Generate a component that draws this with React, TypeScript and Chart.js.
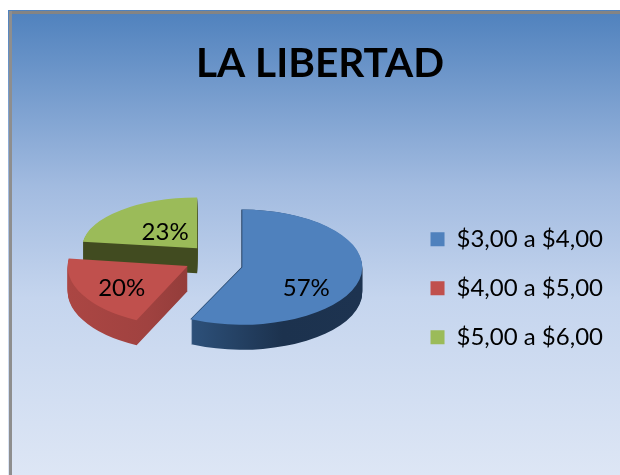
import React, { useEffect, useRef } from "react";
import { Chart, registerables } from "chart.js";

Chart.register(...registerables);

const categories = ["$3,00 a $4,00", "$4,00 a $5,00", "$5,00 a $6,00"];
const shares = [57, 20, 23];
const sliceColors = ["#4f81bd", "#c0504d", "#9bbb59"];
const wallStops = [
  ["#38608f", "#2b4d75", "#1c324e", "#1d3350"],
  ["#ab4643", "#a04240", "#873835", "#7f3432"],
  ["#414b20", "#414b20", "#414b20", "#414b20"],
];
const labelShift = [
  [64, 21],
  [-66, 22],
  [-32, -16],
];
const sliceNudge = [
  [0, 0],
  [1, -5],
  [4, -5],
];
const sliceSquash = [0.48, 0.5, 0.44];
const sliceScale = [1, 1, 0.96];
const FONT = "Lato";
const SQUASH = 0.48;
const DEPTH = 25;
const EXPLODE = 30;
const PIE_X = 213;
const PIE_Y = 264;

const sliceOrigin = (arc: any, i: number) => {
  const mid = (arc.startAngle + arc.endAngle) / 2;
  return {
    x: PIE_X + Math.cos(mid) * EXPLODE + sliceNudge[i][0],
    y: PIE_Y + Math.sin(mid) * EXPLODE * SQUASH + sliceNudge[i][1],
  };
};

const pie3d = {
  id: "pie3d",
  beforeDraw(chart: any) {
    const { ctx, width, height } = chart;
    const g = ctx.createLinearGradient(0, 10, 0, height);
    g.addColorStop(0, "#4f81bd");
    g.addColorStop(0.38, "#a2bbe0");
    g.addColorStop(0.62, "#c5d5ee");
    g.addColorStop(1, "#dde6f5");
    ctx.save();
    ctx.fillStyle = g;
    ctx.fillRect(8, 10, width - 8, height - 10);
    ctx.fillStyle = "#848484";
    ctx.fillRect(9, 11, width - 9, 3);
    ctx.fillStyle = "#8e8e8e";
    ctx.fillRect(9, 11, 3, height - 11);
    ctx.restore();
  },
  beforeDatasetsDraw(chart: any) {
    const { ctx } = chart;
    const arcs = chart.getDatasetMeta(0).data;
    const order = [2, 1, 0];
    for (const i of order) {
      const arc = arcs[i];
      const base = arc.options;
      const origin = sliceOrigin(arc, i);
      const place = (dy: number, dx = 0) => {
        ctx.translate(origin.x + dx, origin.y + dy);
        ctx.scale(sliceScale[i], sliceSquash[i] * sliceScale[i]);
        ctx.translate(-arc.x, -arc.y);
      };
      const r = arc.outerRadius;
      const g = ctx.createLinearGradient(arc.x - r, 0, arc.x + r, 0);
      wallStops[i].forEach((c, k) => g.addColorStop(k / 3, c));
      arc.options = { ...base, backgroundColor: g };
      for (let d = DEPTH; d >= 1; d--) {
        ctx.save();
        place(d);
        arc.draw(ctx);
        ctx.restore();
      }
      if (i === 0) {
        ctx.save();
        place(0, -1);
        arc.draw(ctx);
        ctx.restore();
      }
      arc.options = base;
      ctx.save();
      place(0);
      arc.draw(ctx);
      ctx.restore();
    }
    return false;
  },
  afterDraw(chart: any) {
    const { ctx } = chart;
    const arcs = chart.getDatasetMeta(0).data;
    ctx.save();
    ctx.font = `24px ${FONT}`;
    ctx.fillStyle = "#000";
    ctx.textAlign = "center";
    ctx.textBaseline = "middle";
    arcs.forEach((arc: any, i: number) => {
      const origin = sliceOrigin(arc, i);
      ctx.fillText(`${shares[i]}%`, origin.x + labelShift[i][0], origin.y + labelShift[i][1]);
    });
    ctx.restore();
  },
};

export default function App() {
  const ref = useRef<HTMLCanvasElement>(null);
  useEffect(() => {
    const chart = new Chart(ref.current!, {
      type: "pie",
      data: {
        labels: categories,
        datasets: [
          {
            data: shares,
            backgroundColor: sliceColors,
            borderWidth: 0,
          },
        ],
      },
      options: {
        responsive: false,
        animation: false,
        radius: 120,
        layout: { padding: { left: 27, right: 7, top: 0, bottom: 0 } },
        plugins: {
          tooltip: { enabled: false },
          title: {
            display: true,
            text: "LA LIBERTAD",
            color: "#000",
            font: { family: FONT, size: 40.6, weight: "bold" },
            padding: { top: 40, bottom: 13 },
          },
          legend: {
            position: "right",
            fullSize: false,
            labels: {
              color: "#000",
              boxWidth: 14,
              boxHeight: 14,
              padding: 25,
              font: { family: FONT, size: 24 },
            },
          },
        },
      },
      plugins: [pie3d],
    } as any);
    return () => chart.destroy();
  }, []);
  return (
    <div style={{ position: "absolute", left: 0, top: 0, width: 620, height: 475 }}>
      <canvas ref={ref} width={620} height={475} style={{ display: "block" }} />
    </div>
  );
}
